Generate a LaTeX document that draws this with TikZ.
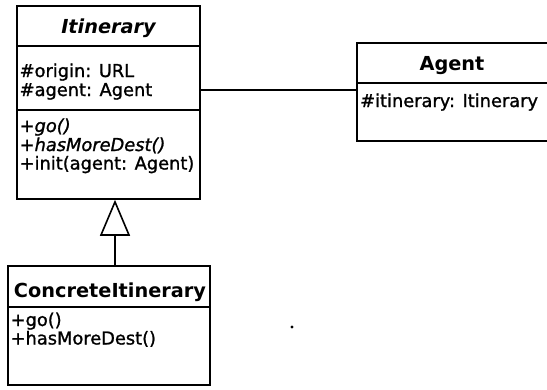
\documentclass[tikz,border=0pt]{standalone}
\usepackage{fontspec}
\setmainfont{DejaVu Sans}[UprightFeatures={FakeBold=1.2},ItalicFeatures={FakeBold=1.2}]
\usetikzlibrary{arrows.meta}
\begin{document}
\begin{tikzpicture}[x=1pt,y=-1pt,
  umlbox/.style={draw,line width=1.6pt,rectangle,inner sep=0pt},
  divider/.style={line width=1.6pt},
  member/.style={anchor=base west,inner sep=0pt,font=\fontsize{17.8}{19}\selectfont},
  classname/.style={anchor=base,inner sep=0pt,font=\fontsize{19.3}{21}\selectfont\bfseries},
  link/.style={line width=1.6pt},
  generalization/.style={line width=1.6pt,-{Triangle[open,length=36pt,width=30pt,line width=1.6pt]}}]
\useasboundingbox (0,0) rectangle (547,389);
\fill[white] (0,0) rectangle (547,389);
\clip (0,0) rectangle (547,389);

% abstract class Itinerary
\node[umlbox,minimum width=183pt,minimum height=193pt] (itin) at (108.5,102.5) {};
\draw[divider] (itin.west |- 0,46) -- (itin.east |- 0,46);
\draw[divider] (itin.west |- 0,110) -- (itin.east |- 0,110);
\node[classname,font=\fontsize{19.3}{21}\selectfont\bfseries\itshape] (itinname) at (108.5,33) {Itinerary};
\node[member] (itinorig) at (19.5,77) {\#origin: URL};
\node[member] (itinagent) at (19.5,96) {\#agent: Agent};
\node[member] (itingo) at (19.5,132) {\itshape +go()};
\node[member] (itinmore) at (19.5,151) {\itshape +hasMoreDest()};
\node[member] (itininit) at (19.5,169.5) {+init(agent: Agent)};

% class Agent
\node[umlbox,minimum width=213pt,minimum height=98pt] (agent) at (463.5,92) {};
\draw[divider] (agent.west |- 0,83) -- (agent.east |- 0,83);
\node[classname] (agentname) at (452,70) {Agent};
\node[member] (agentitin) at (360,107) {\#itinerary: Itinerary};

% class ConcreteItinerary
\node[umlbox,minimum width=202pt,minimum height=119pt] (conc) at (109,325.5) {};
\draw[divider] (conc.west |- 0,307) -- (conc.east |- 0,307);
\node[classname] (concname) at (110,297) {ConcreteItinerary};
\node[member] (concgo) at (10.5,326) {+go()};
\node[member] (concmore) at (10.5,344.5) {+hasMoreDest()};

% association Itinerary -- Agent
\coordinate (assoc) at (280,90);
\draw[link] (itin.east |- assoc) -- (agent.west |- assoc);

% generalization ConcreteItinerary -> Itinerary
\coordinate (gen) at (115,0);
\draw[generalization] (conc.north -| gen) -- (itin.south -| gen);

% small dot
\fill (292,327) circle (1.6);
\end{tikzpicture}
\end{document}
